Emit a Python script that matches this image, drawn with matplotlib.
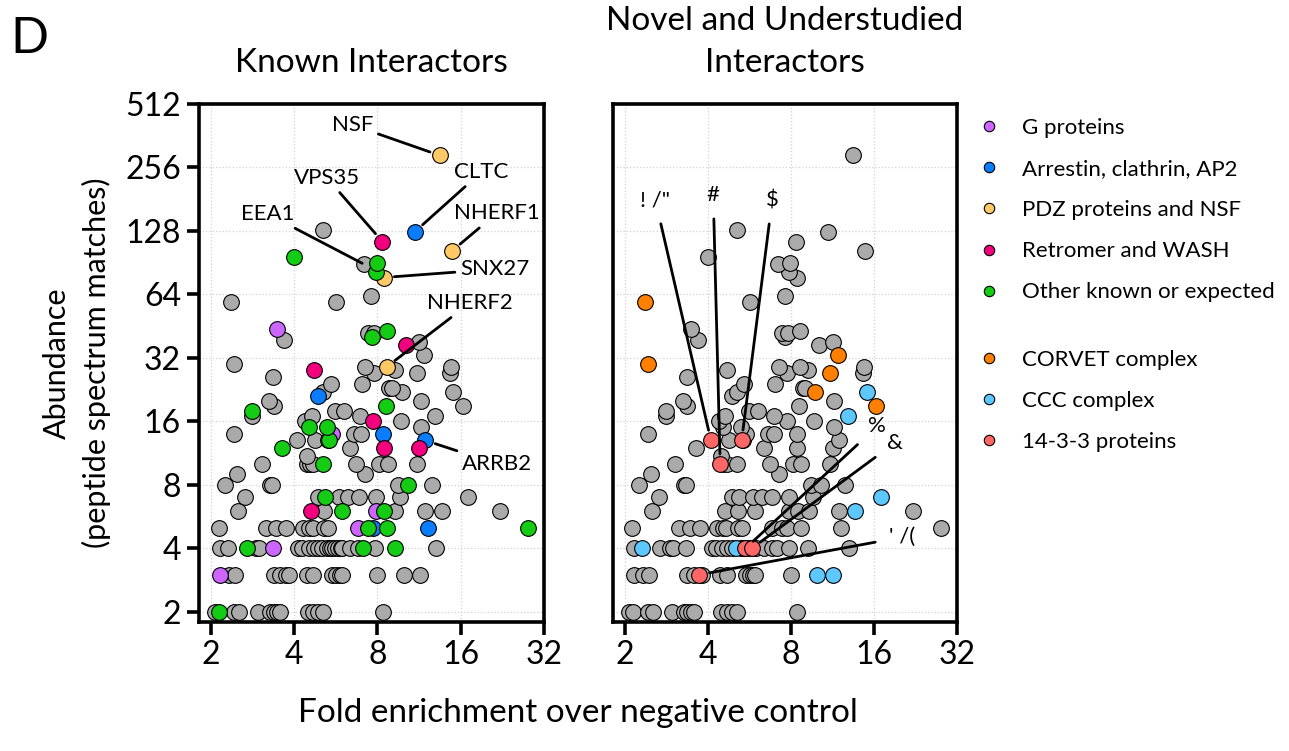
import numpy as np
import matplotlib
matplotlib.use('Agg')
import matplotlib.pyplot as plt
from matplotlib.lines import Line2D
from matplotlib.ticker import NullLocator

plt.rcParams['font.family'] = ['Lato', 'DejaVu Sans']

# ---------------- data ----------------
# fold enrichment over negative control, one line per abundance level
fold = [
    2.07, 2.14, 2.42, 2.52, 2.97, 3.28, 3.37, 3.46, 3.56, 4.47, 4.68, 4.88, 5.08, 8.40,
    2.16, 2.33, 2.45, 3.37, 3.56, 3.72, 3.82, 4.44, 4.68, 5.50, 5.68, 5.84, 5.94, 8.00, 9.95, 11.40,
    2.15, 2.30, 2.69, 2.92, 2.98, 3.34, 4.12, 4.26, 4.51, 4.70, 4.89, 5.05, 5.25, 5.39, 5.47, 5.62,
    5.77, 5.88, 5.96, 6.37, 6.82, 7.11, 7.84, 9.25, 12.97,
    2.13, 3.15, 3.44, 3.73, 4.30, 4.54, 4.66, 5.13, 5.30, 6.82, 7.42, 7.73, 8.68, 12.17, 27.90,
    2.50, 4.60, 5.12, 5.94, 7.90, 8.45, 9.28, 11.90, 13.70, 22.10,
    2.65, 4.87, 5.18, 5.83, 6.27, 6.84, 7.90, 9.65, 17.00,
    2.25, 3.28, 3.33, 9.45, 10.30, 12.55,
    2.49, 7.23,
    3.05, 4.43, 4.55, 4.68, 5.10, 6.70, 8.13, 8.72, 11.10,
    4.45,
    3.62, 6.37, 8.44, 11.32,
    4.10, 4.76, 5.30, 5.36, 11.90,
    2.42, 5.50, 6.60, 6.96, 8.40,
    4.53, 5.25, 11.50,
    4.38, 7.73, 9.72,
    2.82, 4.63, 6.92, 12.90,
    2.82, 5.62, 6.07,
    3.37, 8.56, 16.30,
    3.25, 11.48,
    4.87,
    5.10, 9.78, 15.06,
    8.83, 9.00,
    5.42, 7.01,
    3.35,
    7.77, 11.07, 14.61,
    4.70, 9.25,
    7.21, 8.63, 14.73,
    2.42,
    11.80,
    10.14, 11.32, 3.68, 7.62, 7.41, 7.79, 8.63, 3.46,
    2.36, 5.67, 7.58, 8.44, 7.90, 7.15, 7.94, 3.99,
    14.89, 8.33, 10.92, 5.10, 13.44,
]

# abundance (peptide spectrum matches)
abundance = [
    2, 2, 2, 2, 2, 2, 2, 2, 2, 2, 2, 2, 2, 2,
    3, 3, 3, 3, 3, 3, 3, 3, 3, 3, 3, 3, 3, 3, 3, 3,
    4, 4, 4, 4, 4, 4, 4, 4, 4, 4, 4, 4, 4, 4, 4, 4,
    4, 4, 4, 4, 4, 4, 4, 4, 4,
    5, 5, 5, 5, 5, 5, 5, 5, 5, 5, 5, 5, 5, 5, 5,
    6, 6, 6, 6, 6, 6, 6, 6, 6, 6,
    7, 7, 7, 7, 7, 7, 7, 7, 7,
    8, 8, 8, 8, 8, 8,
    9, 9,
    10, 10, 10, 10, 10, 10, 10, 10, 10,
    11,
    12, 12, 12, 12,
    13, 13, 13, 13, 13,
    14, 14, 14, 14, 14,
    15, 15, 15,
    16, 16, 16,
    17, 17, 17, 17,
    18, 18, 18,
    19, 19, 19,
    20, 20,
    21,
    22, 22, 22,
    23, 23,
    24, 24,
    26,
    27, 27, 27,
    28, 28,
    29, 29, 29,
    30,
    33,
    37, 38, 39, 40, 42, 42, 43, 44,
    59, 59, 63, 77, 82, 89, 90, 96,
    103, 114, 127, 130, 292,
]

# class of each protein: G, A, P, R, O = known classes; C, K, T = novel classes
group = [
    '', 'O', '', '', '', '', '', '', '', '', '', '', '', '',
    'G', '', '', '', '', 'T', '', '', '', '', '', '', '', '', 'K', 'K',
    '', 'K', 'O', '', '', 'G', '', '', '', '', '', 'K', '', '', 'T', '',
    'T', '', '', '', '', 'O', '', 'O', '',
    '', '', '', '', '', '', '', '', '', 'G', 'O', 'A', 'O', 'A', 'O',
    '', 'R', '', 'O', 'G', 'O', '', '', 'K', '',
    '', '', 'O', '', '', '', '', '', 'K',
    '', '', '', '', 'O', '',
    '', '',
    '', 'T', '', '', 'O', '', '', '', '',
    '',
    'O', '', 'R', 'R',
    'T', '', 'T', 'O', 'A',
    '', 'G', '', '', 'A',
    'O', 'O', '',
    '', 'R', '',
    '', '', '', 'K',
    'O', '', '',
    '', 'O', 'C',
    '', '',
    'A',
    '', 'C', 'K',
    '', '',
    '', '',
    '',
    '', 'C', '',
    'R', '',
    '', 'P', '',
    'C',
    'C',
    'R', '', '', 'O', '', '', 'O', 'G',
    'C', '', '', 'P', 'O', '', 'O', 'O',
    'P', 'R', 'A', '', 'P',
]

# protein call-out names (empty = unlabelled)
E = ''
name = [
    E, E, E, E, E, E, E, E, E, E, E, E, E, E,
    E, E, E, E, E, "' /(", E, E, E, E, E, E, E, E, E, E,
    E, E, E, E, E, E, E, E, E, E, E, E, E, E, '%', E,
    '&', E, E, E, E, E, E, E, E,
    E, E, E, E, E, E, E, E, E, E, E, E, E, E, E,
    E, E, E, E, E, E, E, E, E, E,
    E, E, E, E, E, E, E, E, E,
    E, E, E, E, E, E,
    E, E,
    E, '#', E, E, E, E, E, E, E,
    E,
    E, E, E, E,
    '! /"', E, '$', E, 'ARRB2',
    E, E, E, E, E,
    E, E, E,
    E, E, E,
    E, E, E, E,
    E, E, E,
    E, E, E,
    E, E,
    E,
    E, E, E,
    E, E,
    E, E,
    E,
    E, E, E,
    E, E,
    E, 'NHERF2', E,
    E,
    E,
    E, E, E, E, E, E, E, E,
    E, E, E, 'SNX27', E, 'EEA1', E, E,
    'NHERF1', 'VPS35', 'CLTC', E, 'NSF',
]

known_codes = ['G', 'A', 'P', 'R', 'O']
known_labels = ['G proteins', 'Arrestin, clathrin, AP2', 'PDZ proteins and NSF',
                'Retromer and WASH', 'Other known or expected']
known_colors = ['#CC66FF', '#0A7DFF', '#FFC966', '#F2007D', '#14CC14']
novel_codes = ['C', 'K', 'T']
novel_labels = ['CORVET complex', 'CCC complex', '14-3-3 proteins']
novel_colors = ['#FF8000', '#5CC8FF', '#FF6666']
gray_color = '#AAAAAA'

x_ticks = [2, 4, 8, 16, 32]
y_ticks = [2, 4, 8, 16, 32, 64, 128, 256, 512]

# ---------------- layout ----------------
W, H = 1289, 751
fig = plt.figure(figsize=(W / 100, H / 100), dpi=100)


def rect(x0, y0, x1, y1):
    return [x0 / W, 1 - y1 / H, (x1 - x0) / W, (y1 - y0) / H]


ax1 = fig.add_axes(rect(199, 104, 544, 622))
ax2 = fig.add_axes(rect(613, 104, 957, 622))

fx = np.array(fold, dtype=float)
ay = np.array(abundance, dtype=float)
grp = np.array(group)
assert len(fold) == len(abundance) == len(group) == len(name)

S = 128
LW = 0.8


def draw_panel(ax, codes, colors):
    colored = np.isin(grp, codes)
    ax.scatter(fx[~colored], ay[~colored], s=S, c=gray_color, edgecolors='black',
               linewidths=LW, zorder=3)
    for code, col in zip(codes, colors):
        m = grp == code
        ax.scatter(fx[m], ay[m], s=S, c=col, edgecolors='black', linewidths=LW, zorder=4)
    ax.set_xscale('log', base=2)
    ax.set_yscale('log', base=2)
    ax.set_xlim(1.81, 32)
    ax.set_ylim(1.79, 512)
    ax.set_xticks(x_ticks)
    ax.set_xticklabels([str(t) for t in x_ticks])
    ax.set_yticks(y_ticks)
    ax.set_yticklabels([str(t) for t in y_ticks])
    ax.xaxis.set_minor_locator(NullLocator())
    ax.yaxis.set_minor_locator(NullLocator())
    ax.grid(True, linestyle=':', color='#D2D2D2', linewidth=0.9)
    ax.set_axisbelow(True)
    for sp in ax.spines.values():
        sp.set_linewidth(2.6)
    ax.tick_params(width=2.6, length=9, labelsize=23, pad=4, direction='out')


draw_panel(ax1, known_codes, known_colors)
draw_panel(ax2, novel_codes, novel_colors)
ax2.tick_params(axis='y', left=False, labelleft=False)

# call-outs: text offset in points relative to the labelled point
left_offsets = {
    'NSF': (-63, 22), 'VPS35': (-40, 46), 'CLTC': (48, 43), 'NHERF1': (32, 27),
    'EEA1': (-69, 36), 'SNX27': (80, 6), 'NHERF2': (60, 46), 'ARRB2': (52, -17),
}
right_offsets = {
    '! /"': (-40, 173), '#': (-5, 194), '$': (22, 173),
    '%': (95, 88), '&': (103, 76), "' /(": (146, 27),
}


def callout(ax, i, dx, dy, shrinkA, shrinkB):
    ax.annotate(name[i], xy=(fx[i], ay[i]), xytext=(dx, dy), textcoords='offset points',
                ha='center', va='center', fontsize=16, zorder=6,
                arrowprops=dict(arrowstyle='-', color='black', lw=2,
                                shrinkA=shrinkA, shrinkB=shrinkB))


for i, n in enumerate(name):
    if n in left_offsets:
        dx, dy = left_offsets[n]
        callout(ax1, i, dx, dy, 2, 1.5 if n == 'EEA1' else 7.5)
    elif n in right_offsets:
        dx, dy = right_offsets[n]
        callout(ax2, i, dx, dy, 8, 7.5)

# titles
ax1.set_title('Known Interactors', fontsize=24, pad=19, va='bottom')
ax2.set_title('Novel and Understudied\nInteractors', fontsize=24, pad=19, va='bottom',
              linespacing=1.5)

# axis labels
ax1.set_ylabel('Abundance\n(peptide spectrum matches)', fontsize=22, labelpad=10,
               linespacing=1.45)
fig.text(578 / W, 1 - 722 / H, 'Fold enrichment over negative control', fontsize=24,
         ha='center', va='baseline')
fig.text(10 / W, 1 - 53 / H, 'D', fontsize=36, ha='left', va='baseline')

# legends


def handles(colors):
    return [Line2D([], [], marker='o', linestyle='', markersize=7.5,
                   markerfacecolor=c, markeredgecolor='black', markeredgewidth=0.8)
            for c in colors]


leg_kw = dict(loc='upper left', frameon=False, fontsize=16, handlelength=1.0,
              handletextpad=1.0, labelspacing=0.95, borderpad=0, borderaxespad=0)
fig.legend(handles(known_colors), known_labels, bbox_to_anchor=(978 / W, 1 - 118 / H), **leg_kw)
fig.legend(handles(novel_colors), novel_labels, bbox_to_anchor=(978 / W, 1 - 350 / H), **leg_kw)

fig.savefig('out.png', dpi=100)
